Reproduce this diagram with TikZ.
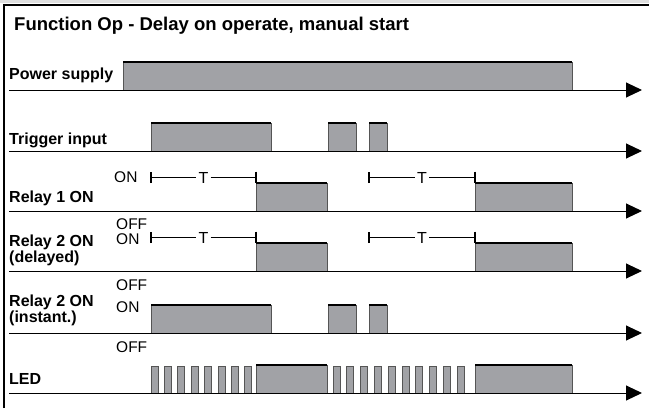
\documentclass[tikz,border=0pt]{standalone}
\usepackage{fontspec}
\setmainfont{Liberation Sans}
\usetikzlibrary{arrows.meta}
\definecolor{barfill}{RGB}{161,162,166}
\definecolor{barline}{RGB}{85,85,85}
\tikzset{
  bar/.style={fill=barfill,draw=barline,line width=0.7pt},
  topedge/.style={line width=1.2pt,black},
  axis/.style={line width=1pt,-{Triangle[length=16pt,width=15pt]}},
  lab/.style={anchor=base west,inner sep=0pt,font=\bfseries\fontsize{16}{16}\selectfont},
  onoff/.style={anchor=base west,inner sep=0pt,font=\fontsize{15.5}{16}\selectfont},
  tlab/.style={inner sep=2pt,font=\fontsize{16}{16}\selectfont},
}

\begin{document}
\begin{tikzpicture}[x=1pt,y=-1pt]
            \useasboundingbox (0,0) rectangle (649,408);
            \fill[gray!25] (0,0) rectangle (649,2.5);
            \draw[line width=1.5pt] (4,408)--(4,5)--(649,5);
            \node[anchor=base west,inner sep=0pt,font=\bfseries\fontsize{18.5}{20}\selectfont] (title) at (14,30) {Function Op - Delay on operate, manual start};
            % row labels
            \node[lab] (power) at (9,79) {Power supply};
            \node[lab] (trig) at (9,144.5) {Trigger input};
            \node[lab] (rone) at (9,202.5) {Relay 1 ON};
            \node[lab] (rtwod) at (9,246) {Relay 2 ON};
            \node[lab] (rtwodsub) at (9,262) {(delayed)};
            \node[lab] (rtwoi) at (9,306.5) {Relay 2 ON};
            \node[lab] (rtwoisub) at (9,322.5) {(instant.)};
            \node[lab] (led) at (9,384) {LED};
            \node[onoff] (onone) at (114,182) {ON};
            \node[onoff] (offone) at (116,229) {OFF};
            \node[onoff] (ontwod) at (116,244.5) {ON};
            \node[onoff] (offtwod) at (116,290.5) {OFF};
            \node[onoff] (ontwoi) at (116,312) {ON};
            \node[onoff] (offtwoi) at (116,352.5) {OFF};
            % signals
            \foreach \a/\b/\y in {123/572/90, 151/271/151, 328/356/151, 369/387/151,
                    256/327/211, 475/572/211, 256/327/271, 475/572/271,
                    151/271/333, 328/356/333, 369/387/333, 256/327/393, 475/572/393} {
                \draw[bar] (\a,\y-28) rectangle (\b,\y);
                \draw[topedge] (\a,\y-28)--(\b,\y-28);
            }
            \foreach \i in {0,...,7}
                \draw[bar] (151+13.4*\i,366) rectangle (158+13.4*\i,393);
            \foreach \i in {0,...,9}
                \draw[bar] (333+13.8*\i,366) rectangle (340+13.8*\i,393);
            % delay brackets
            \foreach \r/\y in {a/177.5,b/237.5}
                \foreach \s/\e in {151/256,369/475} {
                    \coordinate (s\r\s) at (\s,\y);
                    \coordinate (e\r\s) at (\e,\y);
                    \node[tlab] (T\r\s) at ({(\s+\e)/2},\y) {T};
                    \draw[line width=0.8pt] (s\r\s)--(T\r\s.west) (T\r\s.east)--(e\r\s);
                    \draw[line width=1.3pt] ([yshift=-5.5pt]s\r\s)--([yshift=5.5pt]s\r\s);
                    \draw[line width=1.1pt] ([yshift=6pt]e\r\s)--++(0,11.5);
                }
            \foreach \y in {90,151,211,271,333,393}
                \draw[axis] (9,\y)--(642,\y);
        \end{tikzpicture}
\end{document}
